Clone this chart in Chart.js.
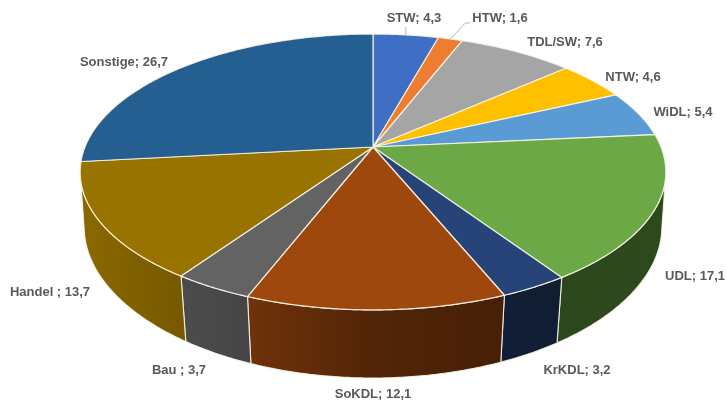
<!DOCTYPE html>
<html><head><meta charset="utf-8">
<style>html,body{margin:0;padding:0;background:#fff}canvas{display:block;filter:blur(0.35px)}</style>
<script src="https://cdn.jsdelivr.net/npm/chart.js@4"></script></head>
<body><canvas id="c" width="726" height="402"></canvas>
<script>
const categories = ['STW','HTW','TDL/SW','NTW','WiDL','UDL','KrKDL','SoKDL','Bau ','Handel ','Sonstige'];
const shares = [4.3,1.6,7.6,4.6,5.4,17.1,3.2,12.1,3.7,13.7,26.7];
const sliceColors = ['#3F6FC4','#ED7D31','#A5A5A5','#FFC000','#5B9BD5','#6CA946','#264478','#9E480E','#636363','#997300','#255E91'];

// label centres, in page pixels
const labelCentres = [[414,18],[500,18.5],[565,42.5],[633,77],[683,112],[695,276.5],[577,370],[373,394],[179,370],[50,292],[124,62]];
// leader lines, as offsets from the rim point of the slice
const leaders = {0:[[0,-8]],1:[[15,-16],[20,-16]]};

// perspective view of the disc
const view = {cx:373, b:147, a:106.8, c:-0.181, d:288};
const shadeStops = [[85,.90],[180,.77],[250,.70],[373,.52],[500,.45],[560,.42],[662,.43]];
const wallFrom = 0.182, wallTo = Math.PI-0.182;

function rim(ang){
  const u=Math.cos(ang), v=Math.sin(ang), w=1+view.c*v;
  return [view.cx+view.d*u/w,(view.b+view.a*v)/w];
}
function lower(p){
  const s=0.987-(p[1]-165)*0.012/112;
  return [view.cx+(p[0]-view.cx)*s, p[1]+67-(296-p[1])*0.08];
}
function arcPts(a0,a1){
  const n=Math.max(2,Math.ceil((a1-a0)/0.01)),r=[];
  for(let i=0;i<=n;i++) r.push(rim(a0+(a1-a0)*i/n));
  return r;
}
function shade(hex,m){
  const n=parseInt(hex.slice(1),16);
  return `rgb(${Math.round((n>>16&255)*m)},${Math.round((n>>8&255)*m)},${Math.round((n&255)*m)})`;
}
function trace(ctx,pts){pts.forEach((p,i)=>i?ctx.lineTo(p[0],p[1]):ctx.moveTo(p[0],p[1]));}

const disc3d = {
  id:'disc3d',
  beforeDatasetDraw(){return false;},
  afterDatasetsDraw(chart){
    const ctx=chart.ctx, arcs=chart.getDatasetMeta(0).data;
    const edge='rgba(250,245,230,0.9)';
    ctx.save();
    ctx.lineJoin='round';
    // walls: only the near side of the disc shows one
    arcs.forEach((el,i)=>{
      const a0=Math.max(el.startAngle,wallFrom), a1=Math.min(el.endAngle,wallTo);
      if(a1<=a0) return;
      const top=arcPts(a0,a1);
      const g=ctx.createLinearGradient(shadeStops[0][0],0,shadeStops[shadeStops.length-1][0],0);
      const span=shadeStops[shadeStops.length-1][0]-shadeStops[0][0];
      shadeStops.forEach(s=>g.addColorStop((s[0]-shadeStops[0][0])/span,shade(sliceColors[i],s[1])));
      ctx.beginPath();trace(ctx,top.concat(top.map(lower).reverse()));ctx.closePath();
      ctx.fillStyle=g;ctx.fill();
      ctx.strokeStyle=edge;ctx.lineWidth=1.1;ctx.stroke();
    });
    // top faces
    const apex=[view.cx,view.b];
    arcs.forEach((el,i)=>{
      ctx.beginPath();trace(ctx,[apex].concat(arcPts(el.startAngle,el.endAngle)));ctx.closePath();
      ctx.fillStyle=sliceColors[i];ctx.fill();
      ctx.strokeStyle=edge;ctx.lineWidth=1.2;ctx.stroke();
    });
    // leaders
    ctx.strokeStyle='#b5b5b5';ctx.lineWidth=1;
    Object.keys(leaders).forEach(k=>{
      const el=arcs[k],p=rim((el.startAngle+el.endAngle)/2);
      ctx.beginPath();ctx.moveTo(p[0],p[1]);
      leaders[k].forEach(o=>ctx.lineTo(p[0]+o[0],p[1]+o[1]));
      ctx.stroke();
    });
    // labels
    ctx.font='bold 13px "Liberation Sans", Arial, sans-serif';
    ctx.fillStyle='#595959';ctx.textAlign='center';ctx.textBaseline='middle';
    categories.forEach((c,i)=>{
      ctx.fillText(c+'; '+String(shares[i]).replace('.',','),labelCentres[i][0],labelCentres[i][1]);
    });
    ctx.restore();
  }
};

new Chart(document.getElementById('c'),{
  type:'pie',
  data:{labels:categories,datasets:[{data:shares,backgroundColor:sliceColors}]},
  options:{responsive:false,animation:false,plugins:{legend:{display:false},tooltip:{enabled:false}}},
  plugins:[disc3d]
});
</script></body></html>
